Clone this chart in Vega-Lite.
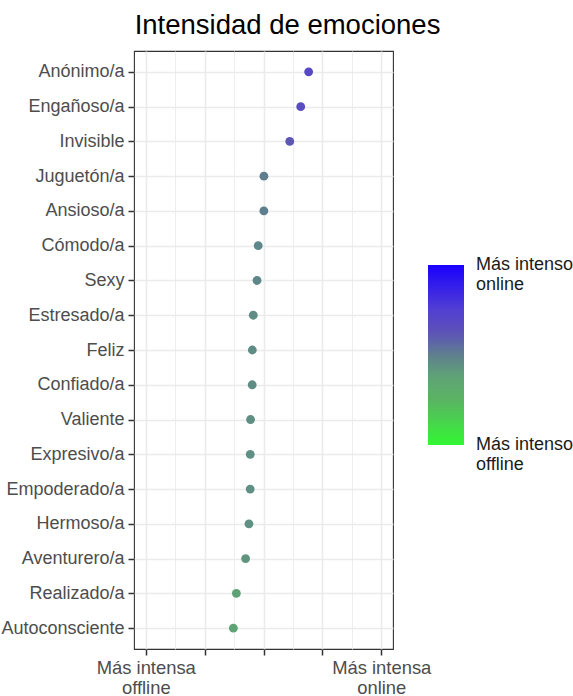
{
  "$schema": "https://vega.github.io/schema/vega-lite/v6.json",
  "width": 259,
  "height": 598,
  "autosize": {"type": "none"},
  "padding": {"left": 134, "top": 51, "right": 180, "bottom": 47},
  "background": "white",
  "title": {
    "text": "Intensidad de emociones",
    "fontSize": 27.5,
    "font": "Liberation Sans",
    "fontWeight": "normal",
    "color": "black",
    "anchor": "middle",
    "frame": "group",
    "dx": 24,
    "baseline": "alphabetic",
    "offset": -10
  },
  "data": {
    "values": [
      {"emocion": "Anónimo/a", "valor": 0.767},
      {"emocion": "Engañoso/a", "valor": 0.632},
      {"emocion": "Invisible", "valor": 0.446},
      {"emocion": "Juguetón/a", "valor": 0.007},
      {"emocion": "Ansioso/a", "valor": 0.006},
      {"emocion": "Cómodo/a", "valor": -0.09},
      {"emocion": "Sexy", "valor": -0.11},
      {"emocion": "Estresado/a", "valor": -0.174},
      {"emocion": "Feliz", "valor": -0.19},
      {"emocion": "Confiado/a", "valor": -0.192},
      {"emocion": "Valiente", "valor": -0.22},
      {"emocion": "Expresivo/a", "valor": -0.225},
      {"emocion": "Empoderado/a", "valor": -0.226},
      {"emocion": "Hermoso/a", "valor": -0.247},
      {"emocion": "Aventurero/a", "valor": -0.304},
      {"emocion": "Realizado/a", "valor": -0.461},
      {"emocion": "Autoconsciente", "valor": -0.512}
    ]
  },
  "mark": {"type": "point", "filled": true, "size": 78, "opacity": 1},
  "encoding": {
    "y": {
      "field": "emocion",
      "type": "nominal",
      "sort": null,
      "scale": {"type": "point", "padding": 0.6},
      "axis": {
        "title": null,
        "domain": false,
        "labelFont": "Liberation Sans",
        "labelFontSize": 18,
        "labelColor": "#4d4d4d",
        "labelPadding": 4,
        "tickColor": "#333333",
        "tickSize": 6,
        "tickWidth": 1.5,
        "grid": true,
        "gridColor": "#ebebeb",
        "gridWidth": 1.6,
        "labelLimit": 400
      }
    },
    "x": {
      "field": "valor",
      "type": "quantitative",
      "scale": {"domain": [-2.2, 2.2], "nice": false, "zero": false},
      "axis": {
        "title": null,
        "domain": false,
        "values": [-2, -1.5, -1, -0.5, 0, 0.5, 1, 1.5, 2],
        "labelExpr": "datum.value == -2 ? ['Más intensa', 'offline'] : (datum.value == 2 ? ['Más intensa', 'online'] : '')",
        "labelFont": "Liberation Sans",
        "labelFontSize": 18.4,
        "labelLineHeight": 20,
        "labelColor": "#4d4d4d",
        "labelPadding": 3,
        "labelFlush": false,
        "labelOverlap": false,
        "labelBaseline": "top",
        "tickColor": "#333333",
        "tickSize": 6,
        "tickWidth": 1.5,
        "tickOpacity": {"condition": {"test": "datum.value % 1 === 0", "value": 1}, "value": 0},
        "grid": true,
        "gridColor": "#ebebeb",
        "gridWidth": {"condition": {"test": "datum.value % 1 === 0", "value": 1.6}, "value": 0.9}
      }
    },
    "color": {
      "field": "valor",
      "type": "quantitative",
      "scale": {
        "domain": [-2, -1, -0.5, 0, 0.5, 1, 2],
        "range": ["#33f633", "#5ab463", "#5fa475", "#5f7f8e", "#5d52b8", "#5240d2", "#1a00ff"],
        "interpolate": "rgb"
      },
      "legend": {
        "title": null,
        "orient": "none",
        "legendX": 294,
        "legendY": 214,
        "direction": "vertical",
        "gradientLength": 180,
        "gradientThickness": 36,
        "gradientStrokeWidth": 0,
        "values": [-1.998, 1.998],
        "labelExpr": "datum.value > 0 ? ['Más intenso', 'online'] : ['Más intenso', 'offline']",
        "labelFont": "Liberation Sans",
        "labelFontSize": 18,
        "labelColor": "#1a1a1a",
        "labelOffset": 12,
        "labelLimit": 300,
        "labelOverlap": false,
        "encode": {"labels": {"update": {"dy": {"value": -8}}}}
      }
    }
  },
  "config": {
    "view": {"stroke": "#333333", "strokeWidth": 1.1}
  }
}
